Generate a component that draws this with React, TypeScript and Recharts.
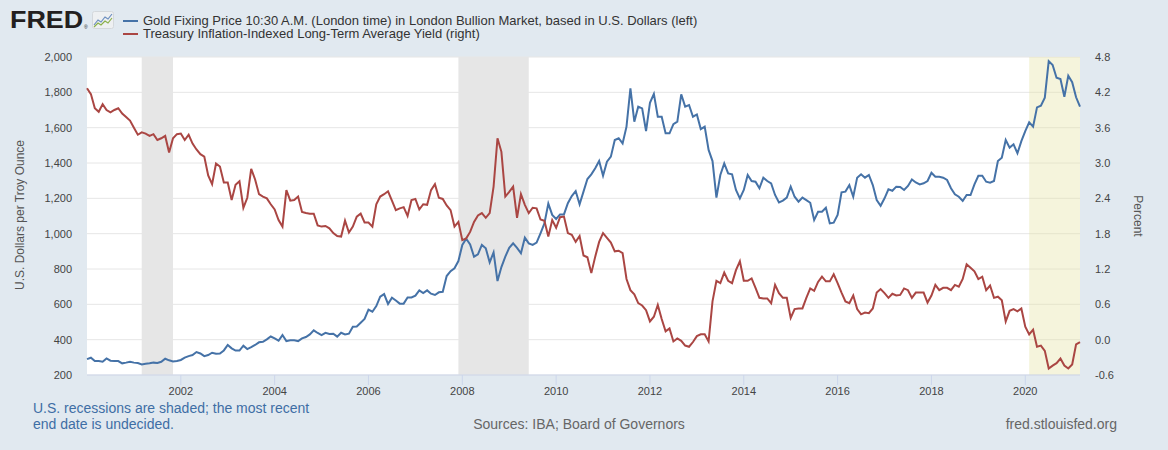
import { CartesianGrid, ComposedChart, Line, ReferenceArea, XAxis, YAxis } from "recharts"

// monthly, Jan 2000 .. Mar 2021
const START_YEAR = 2000

const gold = [
  290, 298, 279, 279, 275, 294, 281, 279, 279, 266, 270, 275,
  270, 268, 260, 264, 266, 270, 268, 275, 292, 283, 277, 279,
  285, 298, 307, 313, 330, 322, 307, 313, 326, 320, 322, 339,
  370, 351, 338, 338, 366, 347, 358, 370, 385, 388, 402, 418,
  407, 394, 426, 392, 396, 396, 392, 407, 415, 430, 453, 438,
  426, 439, 432, 434, 417, 439, 430, 434, 473, 475, 496, 517,
  570, 558, 590, 643, 658, 602, 638, 622, 604, 604, 639, 639,
  649, 679, 664, 679, 660, 653, 668, 671, 760, 788, 804, 845,
  936, 971, 939, 870, 883, 936, 917, 838, 894, 732, 811, 870,
  920, 945, 920, 889, 977, 945, 936, 949, 1002, 1058, 1170, 1106,
  1083, 1109, 1109, 1172, 1213, 1241, 1166, 1238, 1309, 1336, 1370, 1411,
  1328, 1407, 1436, 1530, 1540, 1511, 1606, 1823, 1634, 1719, 1709, 1581,
  1741, 1791, 1662, 1662, 1568, 1568, 1620, 1634, 1789, 1719, 1728, 1662,
  1675, 1592, 1606, 1474, 1411, 1204, 1332, 1398, 1341, 1336, 1247, 1200,
  1247, 1332, 1298, 1294, 1257, 1317, 1298, 1285, 1219, 1177, 1187, 1204,
  1266, 1209, 1181, 1204, 1190, 1175, 1077, 1124, 1124, 1147, 1058, 1062,
  1106, 1234, 1238, 1275, 1209, 1317, 1336, 1317, 1332, 1275, 1190, 1158,
  1200, 1251, 1243, 1266, 1264, 1247, 1270, 1307, 1290, 1279, 1285, 1298,
  1345, 1322, 1322, 1317, 1304, 1257, 1223, 1209, 1185, 1219, 1219, 1279,
  1328, 1328, 1294, 1289, 1298, 1411, 1430, 1530, 1487, 1506, 1455, 1524,
  1581, 1630, 1606, 1715, 1724, 1770, 1977, 1955, 1883, 1875, 1775, 1894,
  1857, 1772, 1719,
]

const tips = [
  4.27, 4.17, 3.93, 3.87, 4.0, 3.9, 3.86, 3.9, 3.93, 3.84, 3.78, 3.72,
  3.6, 3.48, 3.52, 3.5, 3.46, 3.49, 3.39, 3.42, 3.46, 3.18, 3.42, 3.49,
  3.5, 3.39, 3.48, 3.33, 3.23, 3.15, 3.11, 2.79, 2.64, 2.99, 2.94, 2.67,
  2.67, 2.37, 2.63, 2.69, 2.24, 2.41, 2.9, 2.72, 2.47, 2.43, 2.4, 2.3,
  2.21, 2.03, 1.92, 2.54, 2.36, 2.37, 2.43, 2.17, 2.15, 2.14, 2.14, 1.94,
  1.92, 1.93, 1.89, 1.81, 1.76, 1.75, 2.02, 1.82, 1.92, 2.09, 2.14, 1.99,
  1.99, 1.92, 2.3, 2.43, 2.47, 2.52, 2.36, 2.2, 2.23, 2.25, 2.1, 2.37,
  2.39, 2.21, 2.3, 2.29, 2.54, 2.64, 2.41, 2.39, 2.28, 2.2, 1.92, 2.0,
  1.69, 1.72, 1.83, 2.0, 2.11, 2.15, 2.07, 2.15, 2.6, 3.42, 3.19, 2.43,
  2.51, 2.6, 2.07, 2.47, 2.29, 2.15, 2.24, 2.23, 2.04, 2.02, 1.75, 2.03,
  1.9, 2.08, 2.09, 1.81, 1.78, 1.66, 1.76, 1.43, 1.4, 1.13, 1.41, 1.66,
  1.81, 1.73, 1.65, 1.5, 1.51, 1.47, 1.03, 0.84, 0.77, 0.62, 0.58, 0.5,
  0.31, 0.39, 0.59, 0.35, 0.14, 0.19, -0.03, 0.02, -0.02, -0.1, -0.12, -0.04,
  0.06, 0.09, 0.09, -0.03, 0.65, 1.0, 0.96, 1.14, 1.0, 0.96, 1.18, 1.33,
  1.0, 1.0, 1.04, 0.88, 0.71, 0.7, 0.7, 0.62, 0.93, 0.79, 0.71, 0.71,
  0.37, 0.52, 0.53, 0.53, 0.71, 0.87, 0.83, 0.98, 1.07, 0.99, 0.99, 1.11,
  0.96, 0.8, 0.65, 0.62, 0.75, 0.52, 0.43, 0.46, 0.45, 0.53, 0.8, 0.86,
  0.79, 0.71, 0.78, 0.75, 0.76, 0.87, 0.84, 0.71, 0.8, 0.8, 0.8, 0.63,
  0.75, 0.93, 0.84, 0.88, 0.88, 0.84, 0.93, 0.9, 1.03, 1.28, 1.22, 1.16,
  1.03, 1.07, 0.84, 0.92, 0.71, 0.73, 0.67, 0.31, 0.49, 0.52, 0.48, 0.53,
  0.22, 0.09, 0.17, -0.12, -0.1, -0.19, -0.49, -0.44, -0.4, -0.32, -0.44, -0.49,
  -0.42, -0.08, -0.04,
]

const yearTicks = [2002, 2004, 2006, 2008, 2010, 2012, 2014, 2016, 2018, 2020]
const goldTicks = [200, 400, 600, 800, 1000, 1200, 1400, 1600, 1800, 2000]
const tipsTicks = [-0.6, 0, 0.6, 1.2, 1.8, 2.4, 3.0, 3.6, 4.2, 4.8]

// recessions as [start, end] in year + (month - 1) / 12
const recessions = [
  { from: 2001 + 2 / 12, to: 2001 + 10 / 12, open: false },
  { from: 2007 + 11 / 12, to: 2009 + 5 / 12, open: false },
  { from: 2020 + 1 / 12, to: 2021 + 2 / 12, open: true },
]

const rows = gold.map((g, i) => ({ t: START_YEAR + i / 12, gold: g, tips: tips[i] }))
const xMax = START_YEAR + (gold.length - 1) / 12

const FONT = "'Liberation Sans', Arial, sans-serif"

export default function App() {
  return (
    <div
      style={{
        position: "absolute",
        left: 0,
        top: 0,
        width: 1168,
        height: 450,
        background: "#e1e9f0",
        fontFamily: FONT,
        overflow: "hidden",
      }}
    >
      <ComposedChart width={1168} height={450} data={rows} margin={{ top: 57, right: 0, bottom: 0, left: 0 }}>
        <CartesianGrid yAxisId="left" vertical={false} stroke="#e6e6e6" fill="#ffffff" fillOpacity={1} />
        {recessions.map((r) => (
          <ReferenceArea
            key={r.from}
            yAxisId="left"
            x1={r.from}
            x2={r.to}
            fill={r.open ? "#e6e4a8" : "#e6e6e6"}
            fillOpacity={r.open ? 0.4 : 1}
            stroke="none"
          />
        ))}
        <XAxis
          dataKey="t"
          type="number"
          domain={[START_YEAR, xMax]}
          ticks={yearTicks}
          height={75}
          stroke="#ccd6eb"
          tickSize={10}
          tickMargin={2}
          tick={{ fill: "#444", fontSize: 11 }}
        />
        <YAxis
          yAxisId="left"
          domain={[200, 2000]}
          ticks={goldTicks}
          width={87}
          axisLine={false}
          tickLine={false}
          tickSize={6}
          tickMargin={9}
          tick={{ fill: "#444", fontSize: 11 }}
          tickFormatter={(v) => v.toLocaleString("en-US")}
        />
        <YAxis
          yAxisId="right"
          orientation="right"
          domain={[-0.6, 4.8]}
          ticks={tipsTicks}
          width={88}
          axisLine={false}
          tickLine={false}
          tickSize={6}
          tickMargin={9}
          tick={{ fill: "#444", fontSize: 11, textAnchor: "start" }}
          tickFormatter={(v) => v.toFixed(1)}
        />
        <Line yAxisId="left" dataKey="gold" stroke="#4572a7" strokeWidth={2} dot={false} isAnimationActive={false} />
        <Line yAxisId="right" dataKey="tips" stroke="#aa4643" strokeWidth={2} dot={false} isAnimationActive={false} />
      </ComposedChart>

      {/* logo */}
      <div
        style={{
          position: "absolute",
          left: 10,
          top: 9,
          fontSize: 23,
          lineHeight: "23px",
          fontWeight: 900,
          letterSpacing: 0,
          color: "#231f20",
          transform: "scaleX(1.17)",
          transformOrigin: "left top",
        }}
      >
        FRED
      </div>
      <div style={{ position: "absolute", left: 84, top: 25, fontSize: 5, lineHeight: "5px", color: "#231f20" }}>®</div>
      <svg style={{ position: "absolute", left: 92, top: 11 }} width={22} height={18}>
        <rect x={0.5} y={0.5} width={21} height={17} rx={2} fill="#eef0f2" stroke="#d4d8dc" />
        <polyline points="2,14 6,9 9,11 13,6 16,8 20,3" fill="none" stroke="#6d8fc0" strokeWidth={1.2} />
        <polyline points="2,16 6,12 9,14 13,10 16,12 20,7" fill="none" stroke="#8ab04a" strokeWidth={1.2} />
      </svg>

      {/* legend */}
      <div style={{ position: "absolute", left: 123, top: 20, width: 15, height: 2, background: "#4572a7" }} />
      <div style={{ position: "absolute", left: 123, top: 33, width: 15, height: 2, background: "#aa4643" }} />
      <div style={{ position: "absolute", left: 143, top: 14, fontSize: 13, lineHeight: "13px", color: "#333", whiteSpace: "nowrap" }}>
        <div>Gold Fixing Price 10:30 A.M. (London time) in London Bullion Market, based in U.S. Dollars (left)</div>
        <div>Treasury Inflation-Indexed Long-Term Average Yield (right)</div>
      </div>

      {/* axis titles */}
      <div
        style={{
          position: "absolute",
          left: 20,
          top: 215,
          transform: "translate(-50%, -50%) rotate(-90deg)",
          fontSize: 12,
          color: "#555",
          whiteSpace: "nowrap",
        }}
      >
        U.S. Dollars per Troy Ounce
      </div>
      <div
        style={{
          position: "absolute",
          left: 1138,
          top: 216,
          transform: "translate(-50%, -50%) rotate(90deg)",
          fontSize: 12,
          color: "#555",
          whiteSpace: "nowrap",
        }}
      >
        Percent
      </div>

      {/* footer */}
      <div style={{ position: "absolute", left: 33, top: 400, fontSize: 14, lineHeight: "16px", color: "#3e6ea5" }}>
        <div>U.S. recessions are shaded; the most recent</div>
        <div>end date is undecided.</div>
      </div>
      <div
        style={{
          position: "absolute",
          left: 579,
          top: 416,
          transform: "translateX(-50%)",
          fontSize: 14,
          lineHeight: "16px",
          color: "#666",
          whiteSpace: "nowrap",
        }}
      >
        Sources: IBA; Board of Governors
      </div>
      <div style={{ position: "absolute", right: 51, top: 416, fontSize: 14, lineHeight: "16px", color: "#666" }}>
        fred.stlouisfed.org
      </div>
    </div>
  )
}
